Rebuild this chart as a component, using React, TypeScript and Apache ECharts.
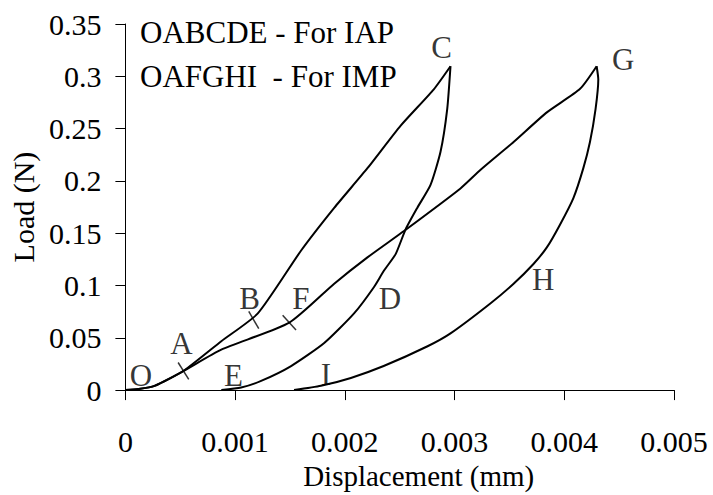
import React, { useEffect, useRef } from "react";
import * as echarts from "echarts";

// IAP loading: O -> A -> B -> C
const iapLoadX = [0, 0.00012, 0.000265, 0.000529, 0.000874, 0.001207, 0.0016, 0.001903, 0.002206, 0.002509, 0.002811, 0.002963];
const iapLoadY = [0, 0.001, 0.004, 0.0183, 0.0467, 0.0733, 0.1332, 0.1742, 0.2121, 0.2529, 0.2876, 0.3096];
// IAP unloading: C -> D -> E
const iapUnloadX = [0.002963, 0.002933, 0.002872, 0.002781, 0.00266, 0.002554, 0.002463, 0.002357, 0.002266, 0.002084, 0.001812, 0.00151, 0.001237, 0.001055, 0.000874];
const iapUnloadY = [0.3096, 0.2687, 0.2278, 0.1962, 0.1742, 0.1537, 0.13, 0.1143, 0.0986, 0.0733, 0.045, 0.023, 0.0088, 0.0025, 0];

// IMP loading: O -> A -> F -> G
const impLoadX = [0, 0.00012, 0.000265, 0.000529, 0.000874, 0.001494, 0.001903, 0.002206, 0.002539, 0.003054, 0.003235, 0.003538, 0.003841, 0.004144, 0.004295];
const impLoadY = [0, 0.001, 0.004, 0.0183, 0.0387, 0.0645, 0.1017, 0.1269, 0.1521, 0.1928, 0.2104, 0.2372, 0.2655, 0.288, 0.3096];
// IMP unloading: G -> H -> I
const impUnloadX = [0.004295, 0.00431, 0.004285, 0.004234, 0.004173, 0.004083, 0.003962, 0.003841, 0.003719, 0.003538, 0.003326, 0.002963, 0.002754, 0.002354, 0.002055, 0.001782, 0.001537];
const impUnloadY = [0.3096, 0.297, 0.2687, 0.2372, 0.212, 0.1836, 0.1584, 0.1364, 0.1206, 0.1017, 0.0828, 0.0542, 0.0419, 0.023, 0.0116, 0.0041, 0];

// Cross markers on the curves
const markNames = ["A", "B", "F"];
const markX = [0.000529, 0.00117, 0.001494];
const markY = [0.0183, 0.067, 0.0645];
const markRot = [32, 30, 42];

// Point letters
const letterNames = ["O", "A", "B", "C", "D", "E", "F", "G", "H", "I"];
const letterX = [0.000141, 0.00051, 0.001131, 0.002881, 0.002411, 0.000985, 0.0016, 0.004537, 0.003807, 0.001827];
const letterY = [0.0135, 0.045, 0.0875, 0.3273, 0.0875, 0.0135, 0.0875, 0.3159, 0.1061, 0.0151];

const xTicks = [0, 0.001, 0.002, 0.003, 0.004, 0.005];
const xTickLabels = ["0", "0.001", "0.002", "0.003", "0.004", "0.005"];
const yTicks = [0, 0.05, 0.1, 0.15, 0.2, 0.25, 0.3, 0.35];
const yTickLabels = ["0", "0.05", "0.1", "0.15", "0.2", "0.25", "0.3", "0.35"];

const legendLines = ["OABCDE - For IAP", "OAFGHI  - For IMP"];

const FONT = "Liberation Serif";

function pickLabel(v: number, ticks: number[], labels: string[]) {
  let best = 0;
  let bd = Infinity;
  ticks.forEach((t, i) => {
    const d = Math.abs(t - v);
    if (d < bd) { bd = d; best = i; }
  });
  return labels[best];
}

export default function App() {
  const ref = useRef<HTMLDivElement>(null);
  useEffect(() => {
    if (!ref.current) return;
    const chart = echarts.init(ref.current, null, { renderer: "svg" });
    const pts = (xs: number[], ys: number[]) => xs.map((x, i) => [x, ys[i]]);
    const curve = (name: string, xs: number[], ys: number[]) => ({
      type: "line",
      name,
      data: pts(xs, ys),
      symbol: "none",
      smooth: 0.2,
      lineStyle: { color: "#000", width: 2 },
      z: 3,
    });
    chart.setOption({
      animation: false,
      textStyle: { fontFamily: FONT },
      grid: { left: 124, right: 39, top: 24, bottom: 101, containLabel: false },
      xAxis: {
        type: "value",
        min: 0,
        max: 0.005,
        interval: 0.001,
        name: "Displacement (mm)",
        nameLocation: "middle",
        nameGap: 66,
        nameTextStyle: { fontFamily: FONT, fontSize: 29, color: "#000", padding: [0, 0, 0, 38] },
        axisLine: { show: true, lineStyle: { color: "#000", width: 1 } },
        axisTick: { show: true, inside: false, length: 10, lineStyle: { color: "#000" } },
        axisLabel: {
          fontFamily: FONT, fontSize: 30, color: "#000", margin: 36,
          formatter: (v: number) => pickLabel(v, xTicks, xTickLabels),
        },
        splitLine: { show: false },
      },
      yAxis: {
        type: "value",
        min: 0,
        max: 0.35,
        interval: 0.05,
        name: "Load (N)",
        nameLocation: "middle",
        nameGap: 86,
        nameRotate: 90,
        nameTextStyle: { fontFamily: FONT, fontSize: 30, color: "#000" },
        axisLine: { show: true, lineStyle: { color: "#000", width: 1 } },
        axisTick: { show: true, inside: false, length: 10, lineStyle: { color: "#000" } },
        axisLabel: {
          fontFamily: FONT, fontSize: 30, color: "#000", margin: 24,
          formatter: (v: number) => pickLabel(v, yTicks, yTickLabels),
        },
        splitLine: { show: false },
      },
      graphic: legendLines.map((t, i) => ({
        type: "text",
        left: 140,
        top: 17 + i * 44,
        style: { text: t, font: "31px Liberation Serif", fontFamily: FONT, fontSize: 31, fill: "#000" },
      })),
      series: [
        curve("IAP loading", iapLoadX, iapLoadY),
        curve("IAP unloading", iapUnloadX, iapUnloadY),
        curve("IMP loading", impLoadX, impLoadY),
        curve("IMP unloading", impUnloadX, impUnloadY),
        {
          type: "scatter",
          name: "marks",
          data: markX.map((x, i) => ({ name: markNames[i], value: [x, markY[i]], symbolRotate: markRot[i] })),
          symbol: "rect",
          symbolSize: [1.5, 20],
          itemStyle: { color: "#000" },
          z: 4,
        },
        {
          type: "scatter",
          name: "letters",
          data: letterX.map((x, i) => ({ name: letterNames[i], value: [x, letterY[i]] })),
          symbol: "circle",
          symbolSize: 0,
          label: {
            show: true,
            position: "inside",
            formatter: (p: any) => p.name,
            fontFamily: FONT,
            fontSize: 31,
            color: "#000",
          },
          z: 5,
        },
      ],
    });
    return () => chart.dispose();
  }, []);
  return (
    <div
      ref={ref}
      style={{ position: "fixed", left: 0, top: 0, width: 713, height: 495, background: "#fff" }}
    />
  );
}
